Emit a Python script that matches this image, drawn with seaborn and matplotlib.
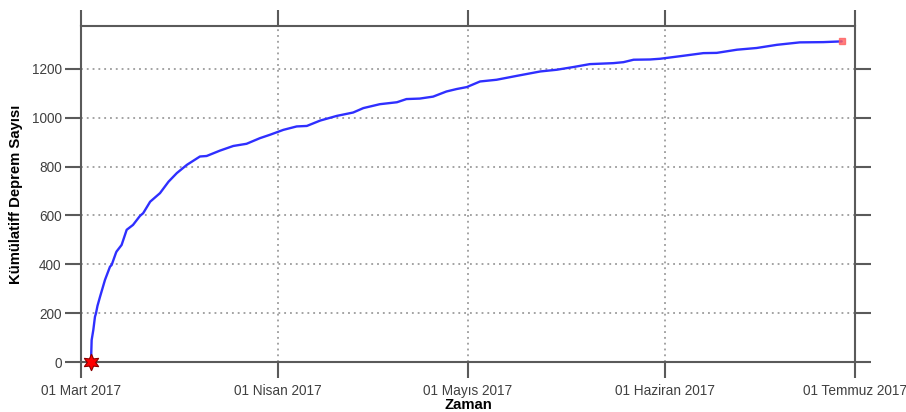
import numpy as np
import pandas as pd
import matplotlib
matplotlib.use("Agg")
import matplotlib.pyplot as plt
import seaborn as sns

# Cumulative aftershock count after the main shock (days counted from 01 March 2017)
elapsed_days = [1.59, 1.62, 1.68, 1.94, 2.2, 2.36, 2.6, 3.0, 3.78, 4.57, 4.83, 5.5,
                5.6, 6.4, 7.2, 8.2, 9.3, 9.8, 10.9, 12.45, 13.8, 15.1, 16.7, 18.75,
                19.8, 21.9, 24.0, 26.1, 28.2, 29.8, 31.9, 34.0, 35.6, 37.7, 40.3,
                42.9, 44.5, 47.1, 49.8, 51.3, 53.4, 55.5, 57.6, 59.2, 60.8, 62.9,
                65.5, 68.7, 72.4, 75.0, 77.6, 80.2, 83.9, 85.5, 87.1, 89.7, 91.3,
                94.9, 98.1, 100.2, 103.4, 106.5, 109.7, 113.3, 117.0, 119.9]
cumulative_count = [0, 40, 90, 131, 185, 199, 230, 267, 336, 390, 397, 446,
                    452, 479, 541, 561, 598, 609, 656, 691, 738, 773, 807, 841,
                    843, 865, 884, 893, 916, 930, 950, 964, 966, 988, 1007,
                    1021, 1039, 1055, 1063, 1076, 1078, 1086, 1107, 1117, 1125, 1148,
                    1155, 1171, 1189, 1196, 1207, 1219, 1223, 1227, 1237, 1238, 1241,
                    1253, 1264, 1265, 1278, 1285, 1298, 1308, 1309, 1312]

tick_dates = ["2017-03-01", "2017-04-01", "2017-05-01", "2017-06-01", "2017-07-01"]
tick_labels = ["01 Mart 2017", "01 Nisan 2017", "01 Mayıs 2017",
               "01 Haziran 2017", "01 Temmuz 2017"]
y_ticks = [0, 200, 400, 600, 800, 1000, 1200]

start = pd.Timestamp("2017-03-01")
df = pd.DataFrame({
    "Zaman": start + pd.to_timedelta(elapsed_days, unit="D"),
    "Sayi": cumulative_count,
})

sns.set_style("ticks")
plt.rcParams["font.family"] = ["Liberation Sans", "DejaVu Sans"]

frame_col = "#5a5a5a"
fig = plt.figure(figsize=(9.06, 4.12), dpi=100)
ax = fig.add_axes([81 / 906, 1 - 362 / 412, 774 / 906, 336 / 412])

sns.lineplot(data=df, x="Zaman", y="Sayi", ax=ax, color="#2f2fff",
             linewidth=1.7, estimator=None, sort=False, zorder=4)

# main shock (star) and last event (small square)
ax.plot(df["Zaman"].iloc[0], df["Sayi"].iloc[0], marker=(6, 1, 0), markersize=12,
        markerfacecolor="#ff0000", markeredgecolor="#8b0000", markeredgewidth=0.8,
        linestyle="none", clip_on=False, zorder=6)
ax.plot(df["Zaman"].iloc[-1], df["Sayi"].iloc[-1], marker="s", markersize=4,
        color="#ff6060", alpha=0.8, linestyle="none", zorder=5)

ax.set_xlim(pd.Timestamp(tick_dates[0]), pd.Timestamp(tick_dates[-1]))
ax.set_ylim(0, 1375)
ax.set_xticks([pd.Timestamp(d) for d in tick_dates])
ax.set_xticklabels(tick_labels)
ax.set_yticks(y_ticks)

for side in ["left", "right", "top", "bottom"]:
    ax.spines[side].set_visible(True)
    ax.spines[side].set_color(frame_col)
    ax.spines[side].set_linewidth(1.5)

ax.tick_params(axis="both", direction="out", length=11.5, width=1.5,
               color=frame_col, labelcolor="#404040", labelsize=9.8)
ax.tick_params(axis="x", top=True, labeltop=False, pad=4)
ax.tick_params(axis="y", right=True, labelright=False, pad=2.5)

ax.grid(True, linestyle=(0, (1.2, 2.6)), color="#8a8a8a", linewidth=1.1, zorder=0)
ax.set_axisbelow(True)

ax.set_xlabel("Zaman", fontsize=10.7, fontweight="bold", color="black", va="center")
ax.set_ylabel("Kümülatiff Deprem Sayısı", fontsize=10.7, fontweight="bold",
              color="black", va="center")
ax.xaxis.set_label_coords(0.5, (362 - 405) / 336)
ax.yaxis.set_label_coords((16 - 81) / 774, 0.5)

fig.savefig("out.png", dpi=100)
